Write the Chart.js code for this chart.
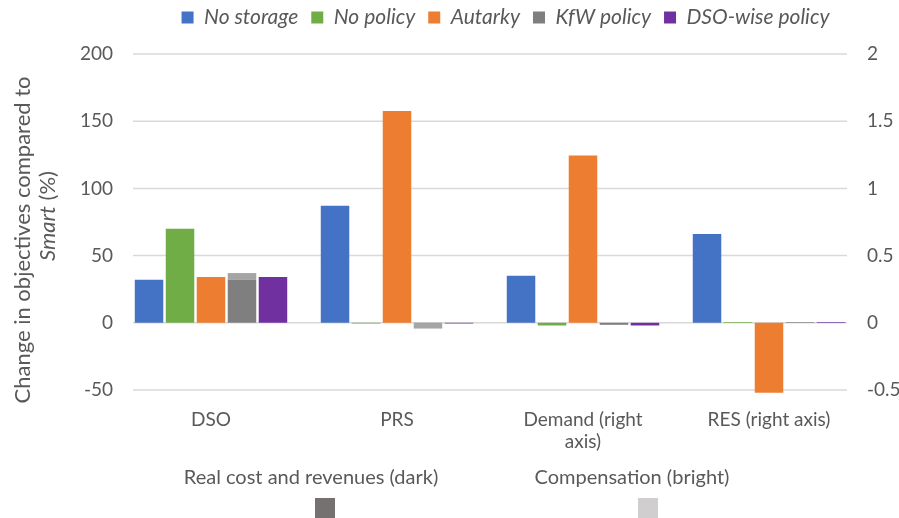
<!DOCTYPE html>
<html>
<head>
<meta charset="utf-8">
<script src="https://cdn.jsdelivr.net/npm/chart.js@4.4.0/dist/chart.umd.min.js"></script>
<style>
html, body { margin: 0; padding: 0; background: #fff; }
#wrap { position: relative; width: 899px; height: 518px; font-family: Lato, sans-serif; color: #595959; }
canvas { position: absolute; left: 0; top: 0; }
.ytitle { position: absolute; white-space: nowrap; font-size: 22px; transform: translate(-50%, -50%) rotate(-90deg); }
.leg { position: absolute; white-space: nowrap; font-size: 20px; transform: translate(-50%, -50%); }
.box { position: absolute; width: 20px; height: 20px; }
</style>
</head>
<body>
<div id="wrap">
    <canvas id="chart" width="899" height="518"></canvas>
    <div class="ytitle" style="left:21px; top:240px">Change in objectives compared to</div>
    <div class="ytitle" style="left:46px; top:216px"><i>Smart</i> (%)</div>
    <div class="leg" style="left:311px; top:476px">Real cost and revenues (dark)</div>
    <div class="leg" style="left:632px; top:476px">Compensation (bright)</div>
    <div class="box" style="left:315px; top:498px; background:#767171"></div>
    <div class="box" style="left:638px; top:498px; background:#d0cece"></div>
</div>
<script>
// values; DSO and PRS on the left axis (%), Demand and RES on the right one
var categories = ['DSO', 'PRS', ['Demand (right', 'axis)'], 'RES (right axis)'];
var onRightAxis = [false, false, true, true];

var noStorage = [32, 87, 0.35, 0.66];
var noPolicy = [70, -0.5, -0.02, 0.005];
var autarky = [34, 157.5, 1.245, -0.52];
var kfwReal = [32, -0.5, -0.015, 0.005];
var kfwCompensation = [5, -3.8, 0, 0];
var dsoWise = [34, -0.5, -0.02, 0.005];

var leftTicks = [-50, 0, 50, 100, 150, 200];
var rightTicks = [-0.5, 0, 0.5, 1, 1.5, 2];

var textColor = '#595959';
var gridColor = '#d9d9d9';

var series = [
    { label: 'No storage', data: noStorage, color: '#4472c4', stack: 's1', legend: true },
    { label: 'No policy', data: noPolicy, color: '#70ad47', stack: 's2', legend: true },
    { label: 'Autarky', data: autarky, color: '#ed7d31', stack: 's3', legend: true },
    { label: 'KfW policy', data: kfwReal, color: '#7f7f7f', stack: 's4', legend: true },
    { label: 'KfW compensation', data: kfwCompensation, color: '#a5a5a5', stack: 's4', legend: false },
    { label: 'DSO-wise policy', data: dsoWise, color: '#7030a0', stack: 's5', legend: true }
];

// each series gets one dataset per y axis, same stack so they share one slot
var datasets = [];
series.forEach(function (s) {
    datasets.push({
        label: s.label,
        data: s.data.map(function (v, i) { return onRightAxis[i] ? null : v; }),
        backgroundColor: s.color,
        stack: s.stack,
        yAxisID: 'y',
        clip: 6,
        showInLegend: s.legend
    });
    datasets.push({
        label: s.label,
        data: s.data.map(function (v, i) { return onRightAxis[i] ? v : null; }),
        backgroundColor: s.color,
        stack: s.stack,
        yAxisID: 'y2',
        clip: 6,
        showInLegend: false
    });
});

// horizontal gridlines, a bit shorter than the plot area like in Excel
var gridPlugin = {
    id: 'shortGrid',
    beforeDatasetsDraw: function (chart) {
        var ctx = chart.ctx;
        var area = chart.chartArea;
        var yScale = chart.scales.y;
        ctx.save();
        ctx.strokeStyle = gridColor;
        ctx.lineWidth = 1.5;
        leftTicks.forEach(function (t) {
            var py = yScale.getPixelForValue(t);
            ctx.beginPath();
            ctx.moveTo(area.left + 15, py);
            ctx.lineTo(area.right - 15, py);
            ctx.stroke();
        });
        ctx.restore();
    }
};

// fixed legend height, legend row moved up and to the right like the original
var legendBox = {
    id: 'legendBox',
    beforeInit: function (chart) {
        var fit = chart.legend.fit;
        chart.legend.fit = function () {
            fit.bind(chart.legend)();
            this.height = 54;
        };
    },
    afterLayout: function (chart) {
        chart.legend.top -= 6;
        chart.legend.bottom -= 6;
        chart.legend.left += 56;
        chart.legend.right += 56;
    }
};

var ctx = document.getElementById('chart').getContext('2d');

var chart = new Chart(ctx, {
    type: 'bar',
    data: {
        labels: categories,
        datasets: datasets
    },
    options: {
        responsive: false,
        animation: false,
        categoryPercentage: 0.833,
        barPercentage: 0.92,
        scales: {
            x: {
                grid: { display: false, drawTicks: false },
                border: { display: false },
                ticks: {
                    color: textColor,
                    padding: 18,
                    maxRotation: 0,
                    font: { family: 'Lato', size: 19 }
                },
                afterFit: function (scale) { scale.height = 128; }
            },
            y: {
                position: 'left',
                min: leftTicks[0],
                max: leftTicks[leftTicks.length - 1],
                grid: { display: false, drawTicks: false },
                border: { display: false },
                ticks: {
                    stepSize: leftTicks[1] - leftTicks[0],
                    color: textColor,
                    padding: 5,
                    font: { family: 'Lato', size: 19 }
                },
                afterFit: function (scale) { scale.width = 118; }
            },
            y2: {
                position: 'right',
                min: rightTicks[0],
                max: rightTicks[rightTicks.length - 1],
                grid: { display: false, drawTicks: false },
                border: { display: false },
                ticks: {
                    stepSize: rightTicks[1] - rightTicks[0],
                    color: textColor,
                    padding: 5,
                    font: { family: 'Lato', size: 19 },
                    callback: function (value) { return String(Math.round(value * 10) / 10); }
                },
                afterFit: function (scale) { scale.width = 37; }
            }
        },
        plugins: {
            tooltip: { enabled: false },
            legend: {
                position: 'top',
                labels: {
                    boxWidth: 12,
                    boxHeight: 12,
                    padding: 13,
                    color: textColor,
                    font: { family: 'Lato', size: 21, style: 'italic' },
                    filter: function (item, data) {
                        return data.datasets[item.datasetIndex].showInLegend;
                    }
                }
            }
        }
    },
    plugins: [gridPlugin, legendBox]
});
</script>
</body>
</html>
